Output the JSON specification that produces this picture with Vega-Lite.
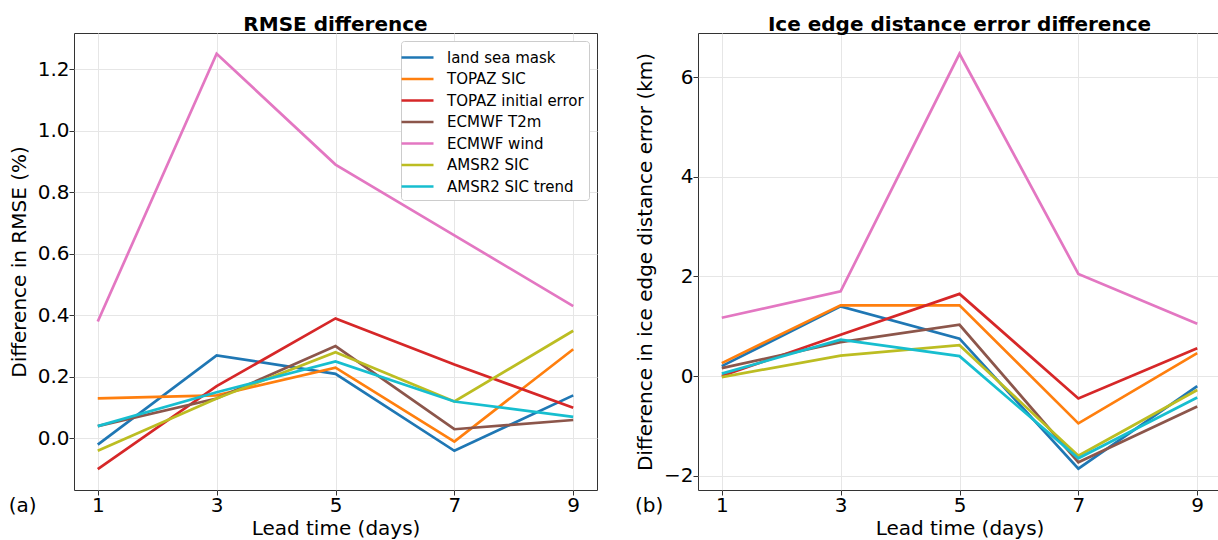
{
  "$schema": "https://vega.github.io/schema/vega-lite/v6.json",
  "padding": {"left": 8, "top": 14, "right": 0, "bottom": 0},
  "spacing": 37,
  "datasets": {
    "rmse": [
      {"series": "land sea mask", "day": 1, "value": -0.02},
      {"series": "land sea mask", "day": 3, "value": 0.27},
      {"series": "land sea mask", "day": 5, "value": 0.21},
      {"series": "land sea mask", "day": 7, "value": -0.04},
      {"series": "land sea mask", "day": 9, "value": 0.14},
      {"series": "TOPAZ SIC", "day": 1, "value": 0.13},
      {"series": "TOPAZ SIC", "day": 3, "value": 0.14},
      {"series": "TOPAZ SIC", "day": 5, "value": 0.23},
      {"series": "TOPAZ SIC", "day": 7, "value": -0.01},
      {"series": "TOPAZ SIC", "day": 9, "value": 0.29},
      {"series": "TOPAZ initial error", "day": 1, "value": -0.1},
      {"series": "TOPAZ initial error", "day": 3, "value": 0.17},
      {"series": "TOPAZ initial error", "day": 5, "value": 0.39},
      {"series": "TOPAZ initial error", "day": 7, "value": 0.24},
      {"series": "TOPAZ initial error", "day": 9, "value": 0.1},
      {"series": "ECMWF T2m", "day": 1, "value": 0.04},
      {"series": "ECMWF T2m", "day": 3, "value": 0.13},
      {"series": "ECMWF T2m", "day": 5, "value": 0.3},
      {"series": "ECMWF T2m", "day": 7, "value": 0.03},
      {"series": "ECMWF T2m", "day": 9, "value": 0.06},
      {"series": "ECMWF wind", "day": 1, "value": 0.38},
      {"series": "ECMWF wind", "day": 3, "value": 1.25},
      {"series": "ECMWF wind", "day": 5, "value": 0.89},
      {"series": "ECMWF wind", "day": 7, "value": 0.66},
      {"series": "ECMWF wind", "day": 9, "value": 0.43},
      {"series": "AMSR2 SIC", "day": 1, "value": -0.04},
      {"series": "AMSR2 SIC", "day": 3, "value": 0.13},
      {"series": "AMSR2 SIC", "day": 5, "value": 0.28},
      {"series": "AMSR2 SIC", "day": 7, "value": 0.12},
      {"series": "AMSR2 SIC", "day": 9, "value": 0.35},
      {"series": "AMSR2 SIC trend", "day": 1, "value": 0.04},
      {"series": "AMSR2 SIC trend", "day": 3, "value": 0.15},
      {"series": "AMSR2 SIC trend", "day": 5, "value": 0.25},
      {"series": "AMSR2 SIC trend", "day": 7, "value": 0.12},
      {"series": "AMSR2 SIC trend", "day": 9, "value": 0.07}
    ],
    "iceedge": [
      {"series": "land sea mask", "day": 1, "value": 0.2},
      {"series": "land sea mask", "day": 3, "value": 1.4},
      {"series": "land sea mask", "day": 5, "value": 0.75},
      {"series": "land sea mask", "day": 7, "value": -1.86},
      {"series": "land sea mask", "day": 9, "value": -0.2},
      {"series": "TOPAZ SIC", "day": 1, "value": 0.26},
      {"series": "TOPAZ SIC", "day": 3, "value": 1.42},
      {"series": "TOPAZ SIC", "day": 5, "value": 1.42},
      {"series": "TOPAZ SIC", "day": 7, "value": -0.95},
      {"series": "TOPAZ SIC", "day": 9, "value": 0.46},
      {"series": "TOPAZ initial error", "day": 1, "value": 0.0},
      {"series": "TOPAZ initial error", "day": 3, "value": 0.83},
      {"series": "TOPAZ initial error", "day": 5, "value": 1.65},
      {"series": "TOPAZ initial error", "day": 7, "value": -0.45},
      {"series": "TOPAZ initial error", "day": 9, "value": 0.56},
      {"series": "ECMWF T2m", "day": 1, "value": 0.16},
      {"series": "ECMWF T2m", "day": 3, "value": 0.68},
      {"series": "ECMWF T2m", "day": 5, "value": 1.03},
      {"series": "ECMWF T2m", "day": 7, "value": -1.73},
      {"series": "ECMWF T2m", "day": 9, "value": -0.61},
      {"series": "ECMWF wind", "day": 1, "value": 1.17},
      {"series": "ECMWF wind", "day": 3, "value": 1.7},
      {"series": "ECMWF wind", "day": 5, "value": 6.47},
      {"series": "ECMWF wind", "day": 7, "value": 2.05},
      {"series": "ECMWF wind", "day": 9, "value": 1.05},
      {"series": "AMSR2 SIC", "day": 1, "value": -0.02},
      {"series": "AMSR2 SIC", "day": 3, "value": 0.41},
      {"series": "AMSR2 SIC", "day": 5, "value": 0.62},
      {"series": "AMSR2 SIC", "day": 7, "value": -1.6},
      {"series": "AMSR2 SIC", "day": 9, "value": -0.28},
      {"series": "AMSR2 SIC trend", "day": 1, "value": 0.05},
      {"series": "AMSR2 SIC trend", "day": 3, "value": 0.73},
      {"series": "AMSR2 SIC trend", "day": 5, "value": 0.4},
      {"series": "AMSR2 SIC trend", "day": 7, "value": -1.65},
      {"series": "AMSR2 SIC trend", "day": 9, "value": -0.43}
    ]
  },
  "hconcat": [
    {
      "title": {"text": "(a)", "orient": "bottom", "anchor": "start", "offset": -43, "fontWeight": "normal", "fontSize": 20},
      "resolve": {"scale": {"color": "independent"}, "legend": {"color": "independent"}},
      "vconcat": [
        {
          "width": 523,
          "height": 457,
          "title": {"text": "RMSE difference", "offset": -2},
          "data": {"name": "rmse"},
          "mark": {"type": "line", "strokeWidth": 2.7, "clip": true},
          "encoding": {
            "x": {
              "field": "day", "type": "quantitative",
              "scale": {"domain": [0.6, 9.4], "nice": false, "zero": false},
              "axis": {"values": [1, 3, 5, 7, 9], "title": "Lead time (days)"}
            },
            "y": {
              "field": "value", "type": "quantitative",
              "scale": {"domain": [-0.1675, 1.3175], "nice": false, "zero": false},
              "axis": {"values": [0, 0.2, 0.4, 0.6, 0.8, 1.0, 1.2], "format": ".1f", "title": "Difference in RMSE (%)", "titlePadding": 8}
            },
            "color": {
              "field": "series", "type": "nominal",
              "scale": {
                "domain": ["land sea mask", "TOPAZ SIC", "TOPAZ initial error", "ECMWF T2m", "ECMWF wind", "AMSR2 SIC", "AMSR2 SIC trend"],
                "range": ["#1f77b4", "#ff7f0e", "#d62728", "#8c564b", "#e377c2", "#bcbd22", "#17becf"]
              },
              "legend": {
                "title": null,
                "orient": "top-right",
                "offset": 8,
                "padding": 5,
                "strokeColor": "#cccccc",
                "fillColor": "#ffffff",
                "cornerRadius": 3,
                "symbolType": "M-1.6,0H1.6",
                "symbolSize": 400,
                "symbolStrokeWidth": 2.7,
                "labelFontSize": 15,
                "labelColor": "#000000",
                "labelOffset": 18,
                "rowPadding": 1.5
              }
            }
          }
        }
      ]
    },
    {
      "title": {"text": "(b)", "orient": "bottom", "anchor": "start", "offset": -43, "fontWeight": "normal", "fontSize": 20},
      "resolve": {"scale": {"color": "independent"}, "legend": {"color": "independent"}},
      "vconcat": [
        {
          "width": 523,
          "height": 457,
          "title": {"text": "Ice edge distance error difference", "offset": -2},
          "data": {"name": "iceedge"},
          "mark": {"type": "line", "strokeWidth": 2.7, "clip": true},
          "encoding": {
            "x": {
              "field": "day", "type": "quantitative",
              "scale": {"domain": [0.6, 9.4], "nice": false, "zero": false},
              "axis": {"values": [1, 3, 5, 7, 9], "title": "Lead time (days)"}
            },
            "y": {
              "field": "value", "type": "quantitative",
              "scale": {"domain": [-2.287, 6.887], "nice": false, "zero": false},
              "axis": {"values": [-2, 0, 2, 4, 6], "format": "d", "title": "Difference in ice edge distance error (km)", "titlePadding": 8}
            },
            "color": {
              "field": "series", "type": "nominal",
              "scale": {
                "domain": ["land sea mask", "TOPAZ SIC", "TOPAZ initial error", "ECMWF T2m", "ECMWF wind", "AMSR2 SIC", "AMSR2 SIC trend"],
                "range": ["#1f77b4", "#ff7f0e", "#d62728", "#8c564b", "#e377c2", "#bcbd22", "#17becf"]
              },
              "legend": null
            }
          }
        }
      ]
    }
  ],
  "resolve": {"scale": {"color": "independent"}, "legend": {"color": "independent"}},
  "config": {
    "font": "DejaVu Sans",
    "view": {"stroke": "#333333", "strokeWidth": 1},
    "axis": {
      "labelFontSize": 20,
      "titleFontSize": 20,
      "titleFontWeight": "normal",
      "labelColor": "#000000",
      "titleColor": "#000000",
      "tickColor": "#333333",
      "tickSize": 5,
      "labelPadding": 0,
      "titlePadding": 3,
      "gridColor": "#e6e6e6",
      "domain": false
    },
    "title": {"fontSize": 20, "fontWeight": "bold", "color": "#000000"}
  }
}
